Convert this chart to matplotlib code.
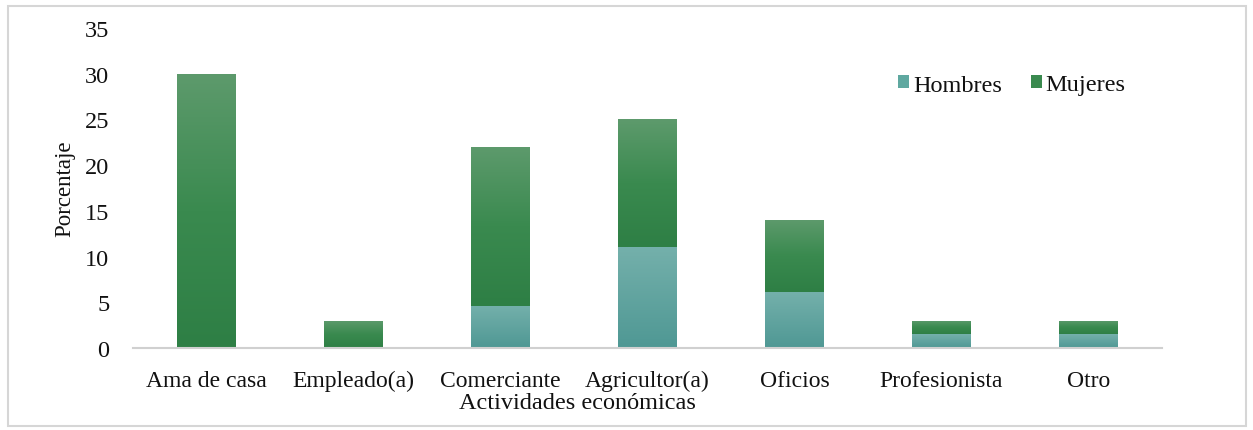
import matplotlib
matplotlib.use("Agg")
import matplotlib.pyplot as plt
import numpy as np
from matplotlib.patches import Rectangle, Patch
from matplotlib.colors import LinearSegmentedColormap

categorias = ["Ama de casa", "Empleado(a)", "Comerciante", "Agricultor(a)",
              "Oficios", "Profesionista", "Otro"]
hombres = [0, 0, 4.6, 11, 6.1, 1.5, 1.5]
mujeres = [30, 3, 17.4, 14, 7.9, 1.5, 1.5]
yticks = [0, 5, 10, 15, 20, 25, 30, 35]

plt.rcParams['font.family'] = ['Liberation Serif', 'DejaVu Serif']

W, H = 1253, 431
fig = plt.figure(figsize=(W/100, H/100), dpi=100)
ax = fig.add_axes([133/W, 1-349/H, (1162-133)/W, (349-29)/H])

x = np.arange(len(categorias))
width = 0.4
cm_h = LinearSegmentedColormap.from_list("h", ["#4f9894", "#74b0ab"])
cm_m = LinearSegmentedColormap.from_list("m", ["#2e7f45", "#3a8a4f", "#5d9a6c"])

def grad_bars(bars, cmap):
    for b in bars:
        h = b.get_height()
        if h <= 0:
            continue
        x0, y0 = b.get_x(), b.get_y()
        w = b.get_width()
        grad = np.linspace(0, 1, 100).reshape(-1, 1)
        im = ax.imshow(grad, cmap=cmap, origin="lower", aspect="auto",
                       extent=[x0, x0 + w, y0, y0 + h], zorder=3)
        im.set_clip_path(b)
        b.set_facecolor("none")

bh = ax.bar(x, hombres, width, color="#5fa8a0", zorder=2, linewidth=0)
bm = ax.bar(x, mujeres, width, bottom=hombres, color="#3a8a4f", zorder=2, linewidth=0)
grad_bars(bh, cm_h)
grad_bars(bm, cm_m)

ax.set_xlim(-0.5, len(categorias) - 0.5)
ax.set_ylim(0, 35)
ax.set_yticks(yticks)
ax.set_xticks(x)
ax.set_xticklabels(categorias, fontsize=17, color="#111111")
ax.tick_params(axis="y", labelsize=17.5, length=0, pad=17, labelcolor="#111111")
ax.tick_params(axis="x", length=0, pad=16)
for s in ["top", "right", "left"]:
    ax.spines[s].set_visible(False)
ax.spines["bottom"].set_color("#d0d0d0")
ax.spines["bottom"].set_linewidth(1.5)
ax.spines["bottom"].set_zorder(4)

fig.text(65/W, 1-189/H, "Porcentaje", rotation=90, ha="center", va="center",
         fontsize=16.5, color="#111111")
fig.text(577/W, 1-404/H, "Actividades económicas", ha="center", va="center",
         fontsize=17.5, color="#111111")

handles = [Patch(facecolor="#5fa8a0", label="Hombres"),
           Patch(facecolor="#3a8a4f", label="Mujeres")]
leg = fig.legend(handles=handles, loc="center", bbox_to_anchor=(1012/W, 1-86/H), ncol=2,
                 frameon=False, fontsize=17.5, handlelength=0.45, handleheight=0.45,
                 handletextpad=0.15, columnspacing=1.2)
for t in leg.get_texts():
    t.set_color("#111111")

fig.patches.append(Rectangle((8/W, 1-427/H), (1246-8)/W, (427-7)/H,
                             transform=fig.transFigure, fill=False,
                             edgecolor="#d6d6d6", linewidth=1.5))

fig.savefig("out.png", dpi=100, facecolor="white")
